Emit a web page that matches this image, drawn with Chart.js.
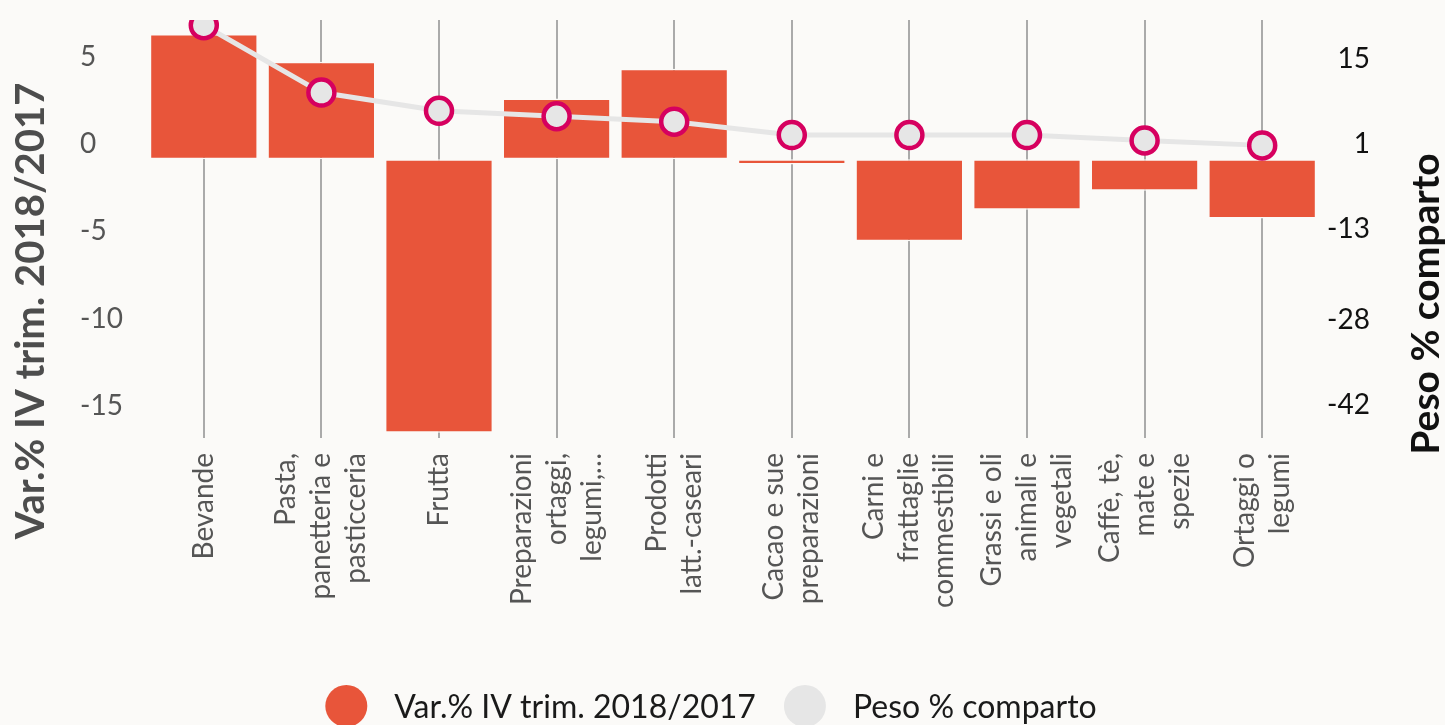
<!DOCTYPE html>
<html lang="it">
<head>
<meta charset="utf-8">
<title>Var.% IV trim. 2018/2017 e peso % comparto</title>
<script src="https://cdn.jsdelivr.net/npm/chart.js@4/dist/chart.umd.min.js"></script>
<style>
    html, body { margin: 0; padding: 0; background: #fbfaf8; }
    #wrap { width: 1445px; height: 725px; position: relative; }
</style>
</head>
<body>
<div id="wrap"><canvas id="chart"></canvas></div>
<script>
'use strict'

/**
 * Data
 */

const categories = [
    ['Bevande'],
    ['Pasta,', 'panetteria e', 'pasticceria'],
    ['Frutta'],
    ['Preparazioni', 'ortaggi,', 'legumi,…'],
    ['Prodotti', 'latt.-caseari'],
    ['Cacao e sue', 'preparazioni'],
    ['Carni e', 'frattaglie', 'commestibili'],
    ['Grassi e oli', 'animali e', 'vegetali'],
    ['Caffè, tè,', 'mate e', 'spezie'],
    ['Ortaggi o', 'legumi']
];
const varValues = [7.2, 5.6, -15.7, 3.5, 5.2, -0.3, -4.7, -2.9, -1.8, -3.4];
const pesoValues = [23.0, 11.9, 8.9, 8.0, 7.1, 4.9, 4.9, 4.9, 4.0, 3.2];
const leftTicks = [5, 0, -5, -10, -15];
const rightTicks = [15, 1, -13, -28, -42];

const varLabel = 'Var.% IV trim. 2018/2017';
const pesoLabel = 'Peso % comparto';

const bg = '#fbfaf8';
const barColor = '#e8553a';
const lineColor = '#e6e6e6';
const pointBorder = '#d6005f';

Chart.defaults.font.family = 'Lato, "Noto Sans", sans-serif';

/**
 * Category labels (centred line blocks), axis titles and legend
 */

const extras = {
    id: 'extras',
    afterDraw(chart) {
        const ctx = chart.ctx;
        const xs = chart.scales.x;
        ctx.save();

        // x labels: rotated, each block centred on its tick
        const lh = 35;
        ctx.font = '28px Lato, sans-serif';
        ctx.fillStyle = '#555';
        ctx.textAlign = 'right';
        ctx.textBaseline = 'middle';
        categories.forEach(function (lines, i) {
            const px = xs.getPixelForTick(i);
            ctx.save();
            ctx.translate(px, xs.top + 15);
            ctx.rotate(-Math.PI / 2);
            lines.forEach(function (line, j) {
                ctx.fillText(line, 0, (j - (lines.length - 1) / 2) * lh);
            });
            ctx.restore();
        });

        // axis titles, both reading upwards
        ctx.textAlign = 'center';
        ctx.textBaseline = 'alphabetic';
        ctx.font = 'bold 40px Lato, sans-serif';
        ctx.fillStyle = '#4d4d4d';
        ctx.save();
        ctx.translate(44, 311);
        ctx.rotate(-Math.PI / 2);
        ctx.fillText(varLabel, 0, 0);
        ctx.restore();

        ctx.font = 'bold 39px Lato, sans-serif';
        ctx.fillStyle = '#111';
        ctx.save();
        ctx.translate(1439, 304);
        ctx.rotate(-Math.PI / 2);
        ctx.fillText(pesoLabel, 0, 0);
        ctx.restore();

        // legend
        const items = [
            { text: varLabel, color: barColor },
            { text: pesoLabel, color: lineColor }
        ];
        const r = 21, gap = 27, between = 28, cy = 706;
        ctx.font = '32px Lato, sans-serif';
        ctx.textAlign = 'left';
        let total = 0;
        items.forEach(function (it, i) {
            it.w = ctx.measureText(it.text).width;
            total += 2 * r + gap + it.w + (i ? between : 0);
        });
        let x = 711 - total / 2;
        items.forEach(function (it) {
            ctx.beginPath();
            ctx.arc(x + r, cy, r, 0, Math.PI * 2);
            ctx.fillStyle = it.color;
            ctx.fill();
            ctx.fillStyle = '#1a1a1a';
            ctx.fillText(it.text, x + 2 * r + gap, 718);
            x += 2 * r + gap + it.w + between;
        });
        ctx.restore();
    }
};

/**
 * Chart
 */

new Chart(document.getElementById('chart'), {
    data: {
        labels: categories,
        datasets: [{
            type: 'line',
            label: pesoLabel,
            data: pesoValues,
            yAxisID: 'y1',
            borderColor: lineColor,
            borderWidth: 5,
            tension: 0,
            pointRadius: 13,
            pointHoverRadius: 13,
            pointBorderWidth: 4.5,
            pointBackgroundColor: lineColor,
            pointBorderColor: pointBorder
        }, {
            type: 'bar',
            label: varLabel,
            data: varValues,
            yAxisID: 'y',
            backgroundColor: barColor,
            borderColor: bg,
            borderWidth: 1.5,
            borderSkipped: false,
            categoryPercentage: 1,
            barPercentage: 0.92
        }]
    },
    options: {
        responsive: true,
        maintainAspectRatio: false,
        animation: false,
        layout: { padding: { left: 80, right: 75, top: 20, bottom: 0 } },
        plugins: {
            legend: { display: false },
            tooltip: { enabled: false }
        },
        scales: {
            x: {
                grid: { offset: false, color: '#aaaaaa', lineWidth: 2, drawTicks: false },
                border: { display: false },
                ticks: {
                    autoSkip: false,
                    maxRotation: 90,
                    minRotation: 90,
                    padding: 15,
                    color: 'rgba(0,0,0,0)',
                    font: { size: 28, lineHeight: 1.25 }
                },
                afterFit: function (scale) { scale.height = 287; }
            },
            y: {
                position: 'left',
                min: -16,
                max: 8,
                grid: { display: false },
                border: { display: false },
                ticks: {
                    crossAlign: 'far',
                    labelOffset: -15,
                    color: '#555',
                    font: { size: 28 }
                },
                afterBuildTicks: function (scale) {
                    scale.ticks = leftTicks.map(function (v) { return { value: v }; });
                },
                afterFit: function (scale) { scale.width = 65; }
            },
            y1: {
                position: 'right',
                min: -45.02,
                max: 23.86,
                grid: { display: false },
                border: { display: false },
                ticks: {
                    crossAlign: 'far',
                    labelOffset: -15,
                    color: '#111',
                    font: { size: 28 }
                },
                afterBuildTicks: function (scale) {
                    scale.ticks = rightTicks.map(function (v) { return { value: v }; });
                },
                afterFit: function (scale) { scale.width = 49; }
            }
        }
    },
    plugins: [extras]
});
</script>
</body>
</html>
